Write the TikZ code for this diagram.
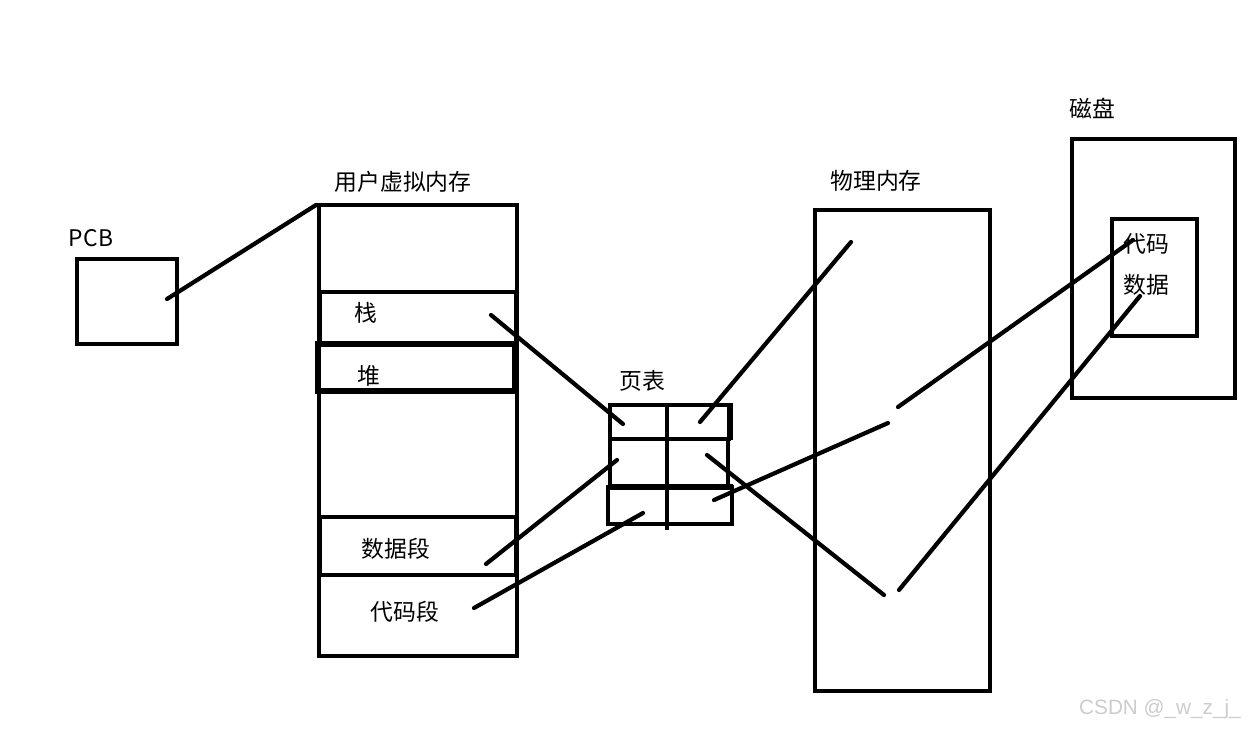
\documentclass[tikz,border=0pt]{standalone}
\usepackage{fontspec}
\setmainfont{Noto Sans CJK SC}
\newfontfamily\markfont{Liberation Sans}
\usetikzlibrary{positioning}
\tikzset{
    box/.style={draw, line width=2.8pt},
    thickbox/.style={draw, line width=3.8pt},
    link/.style={line width=2.4pt, line cap=round},
    txt/.style={font=\fontsize{13}{15}\selectfont, inner sep=0pt}
}

\begin{document}
\begin{tikzpicture}[x=0.02cm, y=-0.02cm]
    \useasboundingbox (0,0) rectangle (1248,728);

    % boxes
    \draw [box] (77,259) rectangle (177,344);
    \draw [box] (319,205) rectangle (517,656);
    \draw [box] (320,292) rectangle (516,343);
    \draw [thickbox] (318,344) rectangle (515,391);
    \draw [box] (320,517) rectangle (516,575);
    \draw [box] (815,210) rectangle (990,691);
    \draw [box] (1072,139) rectangle (1235,398);
    \draw [box] (1112,219) rectangle (1197,336);

    % page table
    \draw [box] (610,405) rectangle (729,439);
    \draw [line width=3.8pt] (730,403) -- (730,440);
    \draw [box] (610,439) rectangle (728,486);
    \draw [thickbox] (608,487) -- (733,487);
    \draw [box] (608,487) rectangle (732,524);
    \draw [box] (667,403) -- (667,530);

    % texts
    \node (pcb)   [txt] at (91,238)   {PCB};
    \node (vmem)  [txt] at (403,182)  {用户虚拟内存};
    \node (stack) [txt] at (366,313)  {栈};
    \node (heap)  [txt] at (369,376)  {堆};
    \node (data)  [txt] at (396,549)  {数据段};
    \node (code)  [txt] at (405,612)  {代码段};
    \node (ptab)  [txt] at (642,381)  {页表};
    \node (pmem)  [txt] at (876,181)  {物理内存};
    \node (disk)  [txt] at (1092,109) {磁盘};
    \node (dcode) [txt] at (1146,244) {代码};
    \node (ddata) [txt] at (1146,285) {数据};
    \node (mark)  [font=\markfont\fontsize{11.8}{14}\selectfont, text=gray!40, inner sep=0pt] at (1160,709) {CSDN @\_w\_z\_j\_};

    % line ends
    \coordinate (pcbIn)   at (167,299);
    \coordinate (vmTop)   at (316,205);
    \coordinate (stIn)    at (491,315);
    \coordinate (ptA)     at (623,424);
    \coordinate (ptB)     at (700,422);
    \coordinate (daIn)    at (486,564);
    \coordinate (ptC)     at (617,460);
    \coordinate (ptD)     at (707,455);
    \coordinate (coIn)    at (474,608);
    \coordinate (ptE)     at (643,513);
    \coordinate (ptF)     at (714,500);
    \coordinate (pmA)     at (851,242);
    \coordinate (pmB)     at (888,423);
    \coordinate (pmC)     at (898,407);
    \coordinate (pmD)     at (884,595);
    \coordinate (pmE)     at (899,590);
    \coordinate (dkCode)  at (1133,240);
    \coordinate (dkData)  at (1140,296);

    \draw [link] (pcbIn) -- (vmTop);
    \draw [link] (stIn) -- (ptA);
    \draw [link] (daIn) -- (ptC);
    \draw [link] (coIn) -- (ptE);
    \draw [link] (ptB) -- (pmA);
    \draw [link] (ptD) -- (pmD);
    \draw [link] (ptF) -- (pmB);
    \draw [link] (pmC) -- (dkCode);
    \draw [link] (pmE) -- (dkData);
\end{tikzpicture}
\end{document}
